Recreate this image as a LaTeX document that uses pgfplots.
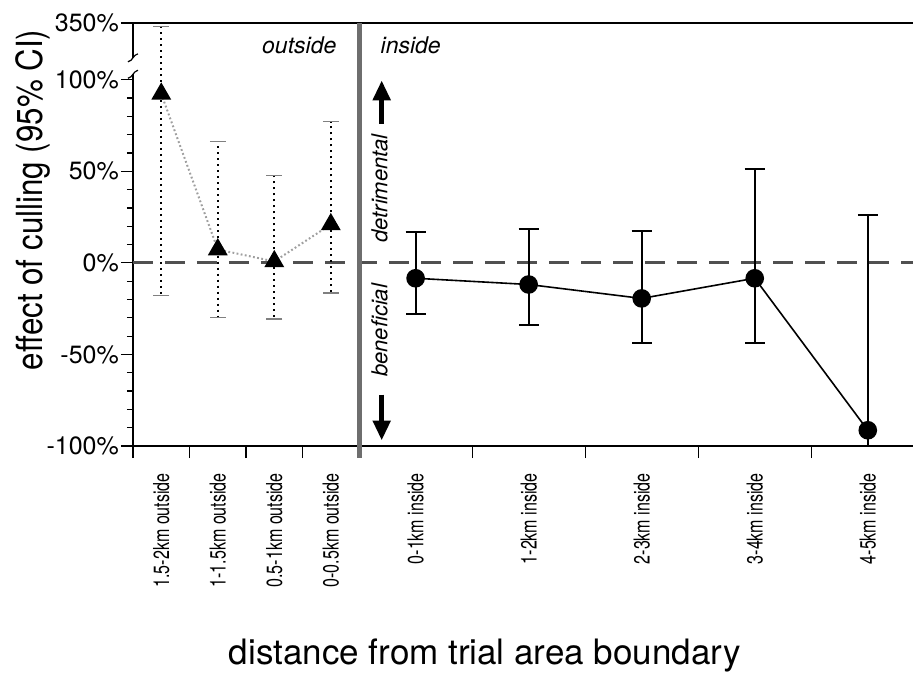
\documentclass[border=0pt]{standalone}
\usepackage{fontspec}
\setmainfont{TeX Gyre Heros}
\newfontfamily\narrowfont[FakeStretch=0.73]{TeX Gyre Heros}
\newfontfamily\ylabfont[FakeStretch=0.87]{TeX Gyre Heros}
\usepackage{pgfplots}
\pgfplotsset{compat=1.18}
\usepackage{pgfplotstable}
\usetikzlibrary{arrows.meta}

% x = distance in km (negative = outside), y = effect (%), ep/em = CI upper/lower widths
% note: the axis is broken above 100%; 131 on the axis stands for 350%
\pgfplotstableread{
x      y      ep     em
-1.75  92.3   36.7   110.2
-1.25  7.3    58.9   37.2
-0.75  0.8    47.0   31.6
-0.25  21.0   56.2   37.6
}\outside
\pgfplotstableread{
x    y      ep     em
0.5  -8.4   25.0   19.3
1.5  -11.8  30.3   22.1
2.5  -19.4  36.9   24.2
3.5  -8.4   59.4   35.6
4.5  -91.4  117.6  8.6
}\inside

\definecolor{sepgray}{RGB}{110,110,110}
\definecolor{dashgray}{RGB}{80,80,80}

\begin{document}
\begin{tikzpicture}
\begin{axis}[
  scale only axis,
  width=780pt, height=423pt,
  xmin=-2, xmax=4.9,
  ymin=-100, ymax=131,
  clip=false,
  axis lines=left,
  axis line style={-, line width=1.6pt},
  tick align=outside,
  major tick length=12pt,
  minor tick length=6pt,
  every tick/.style={black, line width=1.2pt},
  ytick={-100,-50,0,50,100,131},
  yticklabels={-100\%,-50\%,0\%,50\%,100\%,350\%},
  minor ytick={-90,-80,-70,-60,-40,-30,-20,-10,10,20,30,40,60,70,80,90},
  yticklabel style={font=\fontsize{25}{28}\selectfont, inner sep=2pt},
  xtick={-1.75,-1.25,-0.75,-0.25,0.5,1.5,2.5,3.5,4.5},
  xticklabels={1.5-2km outside,1-1.5km outside,0.5-1km outside,0-0.5km outside,0-1km inside,1-2km inside,2-3km inside,3-4km inside,4-5km inside},
  xtick style={draw=none},
  xticklabel style={font=\narrowfont\fontsize{22}{24}\selectfont, rotate=90, anchor=east, inner sep=0pt, xshift=-15pt},
  extra x ticks={-2,-1.5,-1,-0.5,1,2,3,4},
  extra x tick labels={},
  extra x tick style={xtick style={draw=black, line width=1.2pt}},
  xlabel={distance from trial area boundary},
  ylabel={effect of culling (95\% CI)},
  x label style={at={(axis description cs:0.451,0)}, anchor=center, yshift=-209pt, font=\fontsize{35}{40}\selectfont},
  y label style={at={(axis description cs:-0.128,0.582)}, anchor=center, font=\ylabfont\fontsize{36}{40}\selectfont},
  /pgf/number format/assume math mode=true,
]
\coordinate (bl) at (rel axis cs:0,0);
\coordinate (tr) at (rel axis cs:1,1);
% top frame line
\draw[line width=1.6pt] (rel axis cs:0,1) -- (rel axis cs:1,1);
% zero line
\draw[dashgray, line width=3pt, dash pattern=on 20pt off 12pt] (axis cs:-2,0) -- (axis cs:4.9,0);
% boundary
\draw[sepgray, line width=5pt] (axis cs:0,131) -- ([yshift=-12pt]axis cs:0,-100);
% axis break
\fill[white] ([xshift=-4pt]axis cs:-2,103) rectangle ([xshift=4pt]axis cs:-2,112);
\draw[line width=1.2pt] ([xshift=-5pt,yshift=-4pt]axis cs:-2,103) .. controls ([xshift=0pt,yshift=-3pt]axis cs:-2,103) and ([xshift=0pt,yshift=3pt]axis cs:-2,103) .. ([xshift=5pt,yshift=4pt]axis cs:-2,103);
\draw[line width=1.2pt] ([xshift=-5pt,yshift=-4pt]axis cs:-2,112) .. controls ([xshift=0pt,yshift=-3pt]axis cs:-2,112) and ([xshift=0pt,yshift=3pt]axis cs:-2,112) .. ([xshift=5pt,yshift=4pt]axis cs:-2,112);

\addplot[color=gray!75, line width=2pt, dash pattern=on 1.8pt off 2.4pt,
  mark=triangle*, mark size=9.5pt, mark options={solid, black, fill=black},
  error bars/.cd, y dir=both, y explicit,
  error bar style={black, line width=2.2pt, dash pattern=on 2pt off 4pt},
  error mark options={solid, gray, line width=1.6pt, mark size=8pt, rotate=90}]
  table[x=x, y=y, y error plus=ep, y error minus=em]{\outside};

\addplot[black, line width=1.6pt,
  mark=*, mark size=8.5pt, mark options={solid, black, fill=black},
  error bars/.cd, y dir=both, y explicit,
  error bar style={solid, black, line width=2pt},
  error mark options={solid, black, line width=2pt, mark size=10pt, rotate=90}]
  table[x=x, y=y, y error plus=ep, y error minus=em]{\inside};

\node[anchor=east, font=\itshape\fontsize{23}{26}\selectfont] at (axis cs:-0.17,119) {outside};
\node[anchor=west, font=\itshape\fontsize{23}{26}\selectfont] at (axis cs:0.16,119) {inside};
\draw[-{Triangle[width=17pt,length=20pt]}, line width=5pt] (axis cs:0.2,76) -- (axis cs:0.2,99.7);
\draw[-{Triangle[width=17pt,length=20pt]}, line width=5pt] (axis cs:0.2,-72) -- (axis cs:0.2,-97);
\node[rotate=90, font=\itshape\fontsize{22}{24}\selectfont] at (axis cs:0.18,40.7) {detrimental};
\node[rotate=90, font=\itshape\fontsize{22}{24}\selectfont] at (axis cs:0.18,-36.9) {beneficial};
\end{axis}
\pgfresetboundingbox
\path ([xshift=-133pt,yshift=-243pt]bl) rectangle ([yshift=23pt]tr);
\end{tikzpicture}
\end{document}
